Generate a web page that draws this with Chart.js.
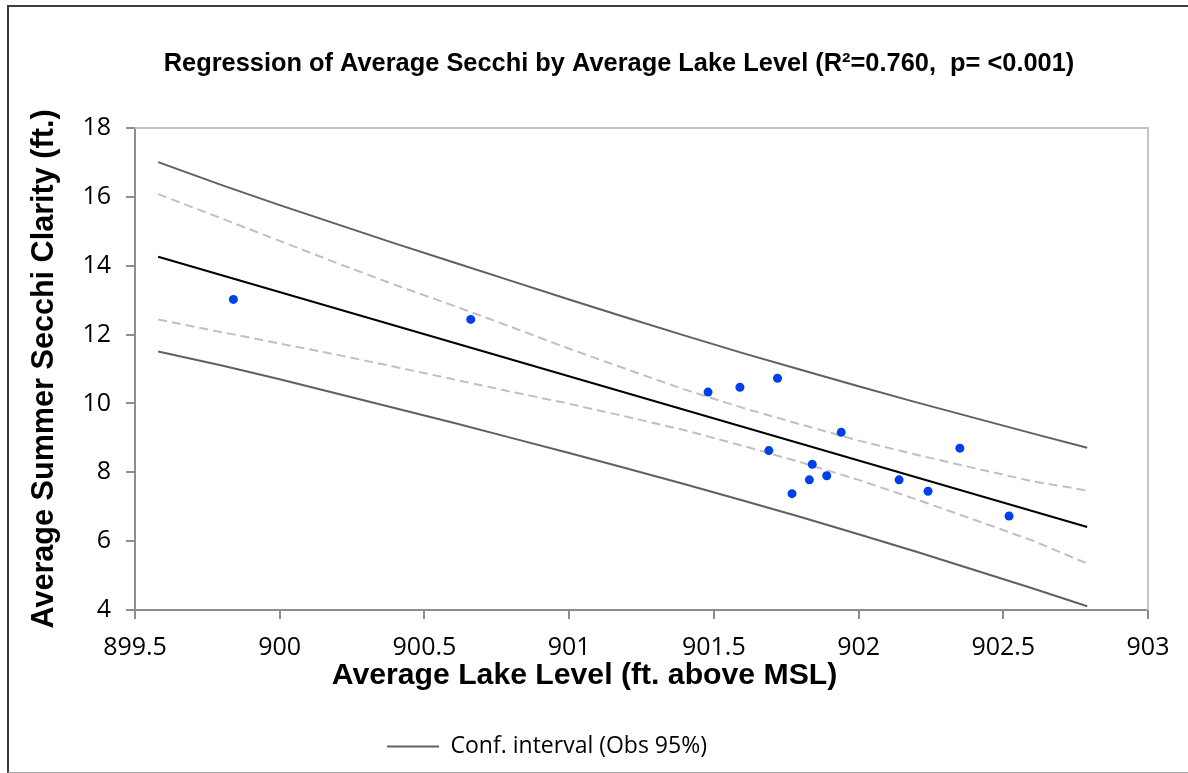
<!DOCTYPE html>
<html><head><meta charset="utf-8">
<script src="https://cdn.jsdelivr.net/npm/chart.js@4.4.1/dist/chart.umd.min.js"></script>
<style>
html,body{margin:0;padding:0;background:#fff;}
#wrap{position:relative;width:1188px;height:773px;overflow:hidden;}
#frame{position:absolute;left:7px;top:5px;width:1200px;height:768px;border-left:2px solid #3c3c3c;border-top:2px solid #3c3c3c;border-bottom:1px solid #a8a8a8;box-sizing:border-box;}
canvas{position:absolute;left:0;top:0;}
</style></head><body>
<div id="wrap"><div id="frame"></div><canvas id="c" width="1188" height="773"></canvas></div>
<script>
// ---- data ----
const chartTitle = 'Regression of Average Secchi by Average Lake Level (R\u00B2=0.760,  p= <0.001)';
const xTitle = 'Average Lake Level (ft. above MSL)';
const yTitle = 'Average Summer Secchi Clarity (ft.)';
const legendLabel = 'Conf. interval (Obs 95%)';

const xTickLabels = ['899.5', '900', '900.5', '901', '901.5', '902', '902.5', '903'];
const yTickLabels = ['4', '6', '8', '10', '12', '14', '16', '18'];

// observations
const obsLevel  = [899.84, 900.66, 901.48, 901.59, 901.72, 901.69, 901.94, 901.84, 901.83, 901.77, 901.89, 902.14, 902.24, 902.35, 902.52];
const obsSecchi = [13.02, 12.44, 10.33, 10.47, 10.73, 8.63, 9.16, 8.23, 7.78, 7.38, 7.90, 7.78, 7.45, 8.70, 6.73];

// regression line end points
const fitLevel  = [899.58, 902.79];
const fitSecchi = [14.26, 6.41];

// interval curves
const bandLevel = [899.58, 899.8, 900.0, 900.2, 900.4, 900.6, 900.8, 901.0, 901.2, 901.4, 901.6, 901.8, 902.0, 902.2, 902.4, 902.6, 902.79];
const obsUpper  = [17.01, 16.34, 15.76, 15.20, 14.64, 14.10, 13.56, 13.02, 12.49, 11.97, 11.46, 10.98, 10.50, 10.03, 9.58, 9.13, 8.71];
const obsLower  = [11.51, 11.10, 10.70, 10.28, 9.86, 9.44, 9.00, 8.56, 8.11, 7.65, 7.18, 6.70, 6.20, 5.69, 5.16, 4.63, 4.11];
const meanUpper = [16.08, 15.37, 14.72, 14.07, 13.44, 12.84, 12.22, 11.59, 10.99, 10.40, 9.87, 9.39, 8.92, 8.51, 8.12, 7.74, 7.47];
const meanLower = [12.44, 12.07, 11.74, 11.41, 11.06, 10.70, 10.34, 9.99, 9.61, 9.22, 8.77, 8.29, 7.78, 7.21, 6.62, 6.02, 5.35];

const pts = (xs, ys) => xs.map((x, i) => ({x: x, y: ys[i]}));

const AXIS = '#8c8c8c';
const tickFont = {family: '"Open Sans"', size: 25};
const boldFamily = '"Liberation Sans", Arial, sans-serif';

// light top / right border of the plot area
const plotFrame = {
  id: 'plotFrame',
  beforeDatasetsDraw(chart) {
    const a = chart.chartArea, ctx = chart.ctx;
    ctx.save();
    ctx.strokeStyle = '#c4c4c4';
    ctx.lineWidth = 2;
    ctx.beginPath();
    ctx.moveTo(a.left, a.top);
    ctx.lineTo(a.right, a.top);
    ctx.lineTo(a.right, a.bottom);
    ctx.stroke();
    ctx.restore();
  }
};

// horizontal nudges of the title, legend and x-axis title (as placed in the reference)
const placement = {
  id: 'placement',
  afterLayout(chart) {
    const t = chart.titleBlock;
    if (t) { t.left += 45; t.right += 45; }
    const l = chart.legend;
    if (l) { l.left -= 27; l.right -= 27; }
    const xs = chart.scales.x;
    if (xs && !xs._titleShifted) {
      const orig = xs.drawTitle;
      xs.drawTitle = function () {
        this.ctx.save();
        this.ctx.translate(-57, 0);
        orig.call(this);
        this.ctx.restore();
      };
      xs._titleShifted = true;
    }
  }
};

new Chart(document.getElementById('c'), {
  type: 'scatter',
  data: {
    datasets: [
      {label: 'Observations', data: pts(obsLevel, obsSecchi), showLine: false,
       pointRadius: 4.5, pointBorderWidth: 0, backgroundColor: '#0040e8', borderColor: '#0040e8'},
      {label: 'Regression', data: pts(fitLevel, fitSecchi), showLine: true,
       borderColor: '#000000', borderWidth: 2, pointRadius: 0},
      {label: 'Conf. interval (Mean 95%)', data: pts(bandLevel, meanUpper), showLine: true,
       borderColor: '#c0c0c0', borderWidth: 2, borderDash: [9, 5], pointRadius: 0},
      {label: 'Conf. interval (Mean 95%) lower', data: pts(bandLevel, meanLower), showLine: true,
       borderColor: '#c0c0c0', borderWidth: 2, borderDash: [9, 5], pointRadius: 0},
      {label: legendLabel, data: pts(bandLevel, obsUpper), showLine: true,
       borderColor: '#606060', borderWidth: 2, pointRadius: 0},
      {label: legendLabel + ' lower', data: pts(bandLevel, obsLower), showLine: true,
       borderColor: '#606060', borderWidth: 2, pointRadius: 0}
    ]
  },
  options: {
    responsive: false,
    devicePixelRatio: 1,
    animation: false,
    layout: {padding: {left: 0, right: 40, top: 0, bottom: 5}},
    scales: {
      x: {
        type: 'linear', position: 'bottom', min: 899.5, max: 903,
        afterFit(s) { s.height = 115; },
        ticks: {stepSize: 0.5, padding: 14, color: '#000', font: tickFont,
                maxRotation: 0, autoSkip: false,
                callback: (v, i) => xTickLabels[i]},
        grid: {drawOnChartArea: false, drawTicks: true, tickLength: 9, color: AXIS, lineWidth: 2},
        border: {display: true, color: AXIS, width: 2},
        title: {display: true, text: xTitle, color: '#000',
                font: {family: boldFamily, size: 30.2, weight: 'bold'}, padding: {top: 0, bottom: 31.5}}
      },
      y: {
        type: 'linear', min: 4, max: 18,
        afterFit(s) { s.width = 135; },
        ticks: {stepSize: 2, padding: 15, color: '#000', font: tickFont,
                callback: (v, i) => yTickLabels[i]},
        grid: {drawOnChartArea: false, drawTicks: true, tickLength: 9, color: AXIS, lineWidth: 2},
        border: {display: true, color: AXIS, width: 2},
        title: {display: true, text: yTitle, color: '#000',
                font: {family: boldFamily, size: 30.6, weight: 'bold'}, padding: {top: 26, bottom: 0}}
      }
    },
    plugins: {
      title: {display: true, text: chartTitle, color: '#000',
              font: {family: boldFamily, size: 25.4, weight: 'bold'},
              padding: {top: 49, bottom: 48.5}},
      legend: {
        display: true, position: 'bottom',
        labels: {
          color: '#000', font: {family: '"Open Sans"', size: 23},
          usePointStyle: true, pointStyle: 'line', pointStyleWidth: 52, padding: 10,
          filter: (item) => item.datasetIndex === 4
        }
      },
      tooltip: {enabled: false}
    }
  },
  plugins: [plotFrame, placement]
});
</script>
</body></html>
